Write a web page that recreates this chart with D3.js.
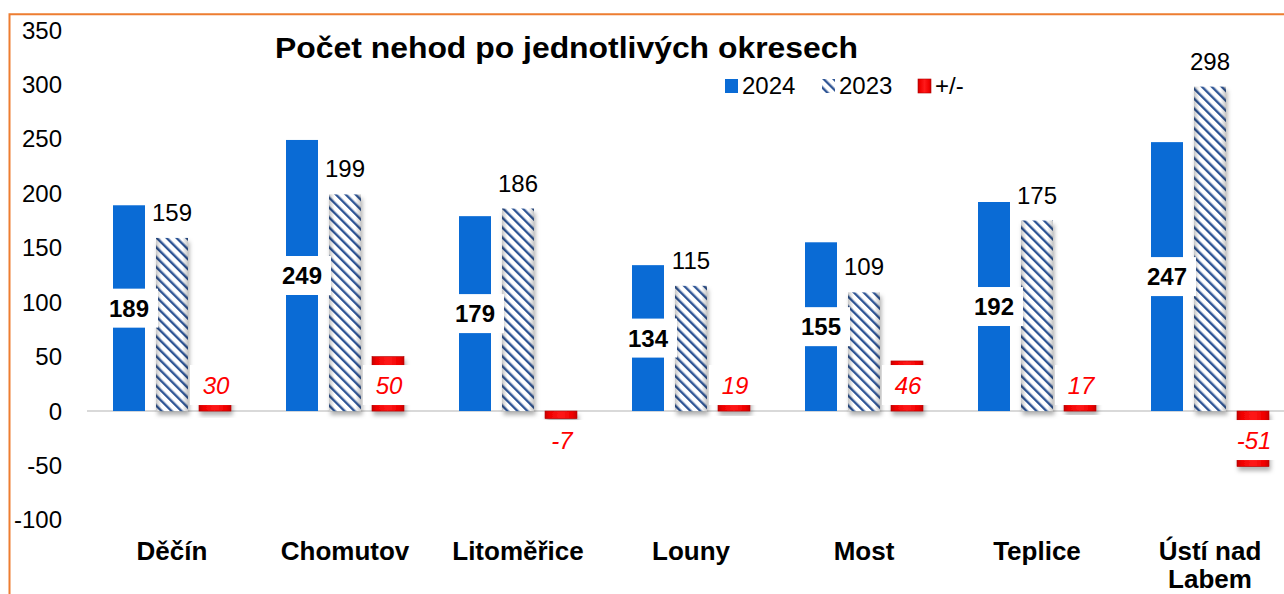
<!DOCTYPE html>
<meta charset="UTF-8">
<style>
  body { margin: 0; background: #fff; }
  text { font-family: "Liberation Sans", Arial, sans-serif; }
</style>
<body>
<div class="chart"></div>
<script src="https://d3js.org/d3.v7.min.js"></script>
<script>
// data
var categories = ["Děčín", "Chomutov", "Litoměřice", "Louny", "Most", "Teplice", "Ústí nad Labem"];
var values2024 = [189, 249, 179, 134, 155, 192, 247];
var values2023 = [159, 199, 186, 115, 109, 175, 298];
var diffs = [30, 50, -7, 19, 46, 17, -51];
var yTicks = [-100, -50, 0, 50, 100, 150, 200, 250, 300, 350];
var seriesKeys = ["2024", "2023", "+/-"];

var width = 1284, height = 594;

var svg = d3.select(".chart").append("svg")
    .attr("width", width)
    .attr("height", height);

var defs = svg.append("defs");

// hatch for 2023
var hatch = defs.append("pattern")
    .attr("id", "hatch")
    .attr("patternUnits", "userSpaceOnUse")
    .attr("width", 7).attr("height", 10)
    .attr("patternTransform", "rotate(-45)");
hatch.append("rect").attr("width", 7).attr("height", 10).attr("fill", "#fff");
hatch.append("rect").attr("width", 2.4).attr("height", 10).attr("fill", "#2f5595");

// side shading so the hatched bars look rounded
var edge = defs.append("linearGradient").attr("id", "edge");
edge.append("stop").attr("offset", "0%").attr("stop-color", "#000").attr("stop-opacity", 0.22);
edge.append("stop").attr("offset", "18%").attr("stop-color", "#000").attr("stop-opacity", 0);
edge.append("stop").attr("offset", "82%").attr("stop-color", "#000").attr("stop-opacity", 0);
edge.append("stop").attr("offset", "100%").attr("stop-color", "#000").attr("stop-opacity", 0.22);

var redGrad = defs.append("linearGradient").attr("id", "redGrad");
redGrad.append("stop").attr("offset", "0%").attr("stop-color", "#c80000");
redGrad.append("stop").attr("offset", "15%").attr("stop-color", "#f00000");
redGrad.append("stop").attr("offset", "50%").attr("stop-color", "#ff1a1a");
redGrad.append("stop").attr("offset", "85%").attr("stop-color", "#f00000");
redGrad.append("stop").attr("offset", "100%").attr("stop-color", "#c80000");

var shadow = defs.append("filter").attr("id", "shadow")
    .attr("x", "-30%").attr("y", "-10%").attr("width", "160%").attr("height", "130%");
shadow.append("feDropShadow")
    .attr("dx", 1.5).attr("dy", 4).attr("stdDeviation", 2.2)
    .attr("flood-color", "#000").attr("flood-opacity", 0.3);

// scales
var y = d3.scaleLinear().domain([-100, 350]).range([519.9, 30]);
var x = d3.scaleBand().domain(categories).range([85.5, 1296.5]);
var xs = d3.scaleBand().domain(seriesKeys).range([27.5, 145.5]).paddingInner(11 / 43);
var bw = xs.bandwidth();

// orange frame
svg.append("path")
    .attr("d", "M9.5," + (height + 5) + "V14.3H" + (width + 5))
    .attr("fill", "none")
    .attr("stroke", "#ed7d31")
    .attr("stroke-width", 2);

// y axis labels
svg.append("g").selectAll("text")
    .data(yTicks).join("text")
    .attr("x", 62)
    .attr("y", function (d) { return y(d) + 8.5; })
    .attr("text-anchor", "end")
    .attr("font-size", 24)
    .attr("fill", "#000")
    .text(function (d) { return d; });

// zero line
svg.append("line")
    .attr("x1", 87).attr("x2", width)
    .attr("y1", y(0)).attr("y2", y(0))
    .attr("stroke", "#d9d9d9")
    .attr("stroke-width", 2);

var groups = svg.append("g").selectAll("g")
    .data(categories).join("g")
    .attr("transform", function (d) { return "translate(" + x(d) + ",0)"; });

// 2024 bars
groups.append("rect")
    .attr("x", xs("2024"))
    .attr("width", bw)
    .attr("y", function (d, i) { return y(values2024[i]); })
    .attr("height", function (d, i) { return y(0) - y(values2024[i]); })
    .attr("fill", "#0a6bd5");

// 2023 bars
var g23 = groups.append("g").attr("filter", "url(#shadow)");
g23.append("rect")
    .attr("x", xs("2023"))
    .attr("width", bw)
    .attr("y", function (d, i) { return y(values2023[i]); })
    .attr("height", function (d, i) { return y(0) - y(values2023[i]); })
    .attr("fill", "url(#hatch)");
g23.append("rect")
    .attr("x", xs("2023"))
    .attr("width", bw)
    .attr("y", function (d, i) { return y(values2023[i]); })
    .attr("height", function (d, i) { return y(0) - y(values2023[i]); })
    .attr("fill", "url(#edge)");

// +/- bars
groups.append("rect")
    .attr("x", xs("+/-"))
    .attr("width", bw)
    .attr("y", function (d, i) { return y(Math.max(0, diffs[i])); })
    .attr("height", function (d, i) { return Math.abs(y(0) - y(diffs[i])); })
    .attr("fill", "url(#redGrad)")
    .attr("stroke", "#b00000")
    .attr("stroke-width", 0.6)
    .attr("filter", "url(#shadow)");

// 2024 labels: bold, white box, middle of bar
groups.each(function (d, i) {
  var g = d3.select(this);
  var cx = xs("2024") + bw / 2;
  var cy = (y(values2024[i]) + y(0)) / 2;
  g.append("rect")
    .attr("x", cx - 29).attr("y", cy - 19.5)
    .attr("width", 58).attr("height", 39)
    .attr("fill", "#fff");
  g.append("text")
    .attr("x", cx).attr("y", cy + 8.5)
    .attr("text-anchor", "middle")
    .attr("font-size", 24)
    .attr("font-weight", "bold")
    .text(values2024[i]);
});

// 2023 labels above bars
groups.append("text")
    .attr("x", xs("2023") + bw / 2)
    .attr("y", function (d, i) { return y(values2023[i]) - 17; })
    .attr("text-anchor", "middle")
    .attr("font-size", 24)
    .text(function (d, i) { return values2023[i]; });

// +/- labels, red italic on a white box
groups.each(function (d, i) {
  var g = d3.select(this);
  var cx = xs("+/-") + bw / 2;
  var cy = diffs[i] >= 0 ? y(0) - 26 : y(0) + 29;
  g.append("rect")
    .attr("x", cx - 25).attr("y", cy - 20)
    .attr("width", 50).attr("height", 40)
    .attr("fill", "#fff");
  g.append("text")
    .attr("x", cx + 1).attr("y", cy + 8.5)
    .attr("text-anchor", "middle")
    .attr("font-size", 24)
    .attr("font-style", "italic")
    .attr("fill", "#ff0000")
    .text(diffs[i]);
});

// category labels (wrap the long one)
groups.append("text")
    .attr("text-anchor", "middle")
    .attr("font-size", 26)
    .attr("font-weight", "bold")
    .each(function (d) {
      var lines = d.length > 12 ? [d.slice(0, d.lastIndexOf(" ")), d.slice(d.lastIndexOf(" ") + 1)] : [d];
      var t = d3.select(this);
      lines.forEach(function (l, k) {
        t.append("tspan")
          .attr("x", x.bandwidth() / 2)
          .attr("y", 560 + k * 28)
          .text(l);
      });
    });

// title
svg.append("text")
    .attr("x", 275).attr("y", 58)
    .attr("font-size", 29)
    .attr("font-weight", "bold")
    .attr("textLength", 583)
    .attr("lengthAdjust", "spacingAndGlyphs")
    .text("Počet nehod po jednotlivých okresech");

// legend
var legendX = [725, 822, 918];
var legendFill = ["#0a6bd5", "url(#hatch)", "url(#redGrad)"];
var legend = svg.append("g").selectAll("g")
    .data(seriesKeys).join("g")
    .attr("transform", function (d, i) { return "translate(" + legendX[i] + ",79)"; });
legend.append("rect")
    .attr("width", 13).attr("height", 14)
    .attr("fill", function (d, i) { return legendFill[i]; })
    .attr("stroke", function (d, i) { return i == 2 ? "#b00000" : "none"; })
    .attr("stroke-width", 0.6);
legend.append("text")
    .attr("x", 17).attr("y", 15)
    .attr("font-size", 24)
    .text(function (d) { return d; });
</script>
</body>
